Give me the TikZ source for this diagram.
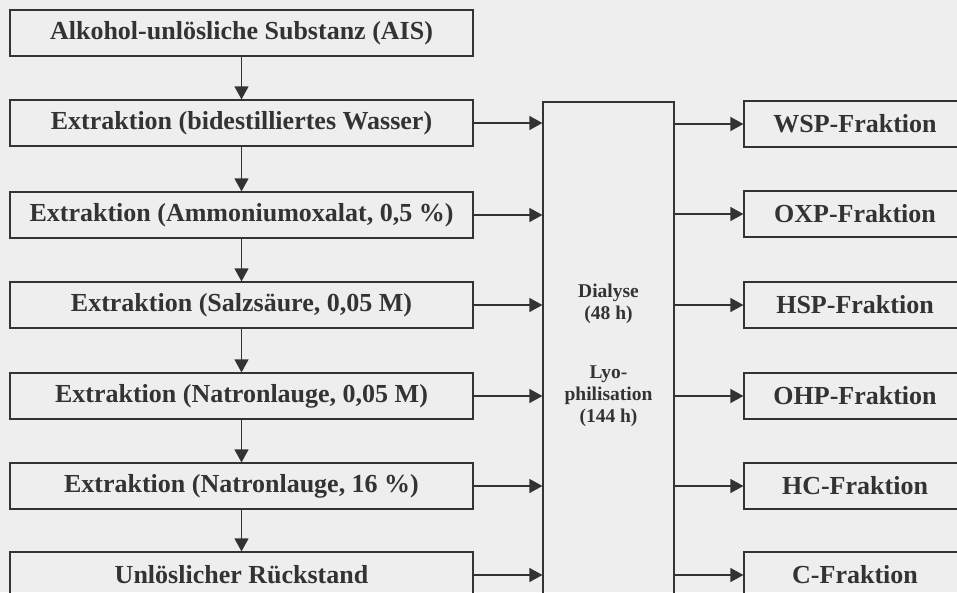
\documentclass[tikz,border=0pt]{standalone}
\usepackage{fontspec}
\setmainfont{Liberation Serif}
\usetikzlibrary{arrows.meta}
\definecolor{ink}{HTML}{333333}
\definecolor{paper}{HTML}{EEEEEE}
\tikzset{
  stufe/.style={draw=ink, line width=1.2pt, minimum width=463pt, minimum height=46pt, inner sep=0pt,
    text=ink, font=\fontsize{26}{30}\selectfont\bfseries},
  fraktion/.style={stufe, minimum width=222pt},
  mitte/.style={text=ink, align=center, inner sep=0pt, font=\fontsize{19.5}{22}\selectfont\bfseries},
  pfeil/.style={draw=ink, line width=1.2pt, -{Triangle[length=13pt,width=14pt]}}
}
\begin{document}
\begin{tikzpicture}[x=1pt,y=-1pt]
\fill[paper] (0,0) rectangle (957,592);
\useasboundingbox (0,0) rectangle (957,592);
\clip (0,0) rectangle (957,592);

\node[stufe] (ais) at (241.5,33) {Alkohol-unlösliche Substanz (AIS)};
\node[stufe] (wasser) at (241.5,123) {Extraktion (bidestilliertes Wasser)};
\node[stufe] (oxalat) at (241.5,215) {Extraktion (Ammoniumoxalat, 0,5 \%)};
\node[stufe] (salz) at (241.5,305) {Extraktion (Salzsäure, 0,05 M)};
\node[stufe] (natron) at (241.5,396) {Extraktion (Natronlauge, 0,05 M)};
\node[stufe] (natronb) at (241.5,486) {Extraktion (Natronlauge, 16 \%)};
\node[stufe] (rest) at (241.5,575) {Unlöslicher Rückstand};

\node[draw=ink, line width=1.2pt, minimum width=131pt, minimum height=500pt, inner sep=0pt] (dia) at (608.5,352) {};
\node[mitte] (dialyse) at (608.5,304) {Dialyse\\(48 h)};
\node[mitte] (lyo) at (608.5,396) {Lyo-\\philisation\\(144 h)};

\node[fraktion] (wsp) at (855,124) {WSP-Fraktion};
\node[fraktion] (oxp) at (855,214) {OXP-Fraktion};
\node[fraktion] (hsp) at (855,305) {HSP-Fraktion};
\node[fraktion] (ohp) at (855,396) {OHP-Fraktion};
\node[fraktion] (hc) at (855,486) {HC-Fraktion};
\node[fraktion] (cf) at (855,575) {C-Fraktion};

\foreach \a/\b in {ais/wasser, wasser/oxalat, oxalat/salz, salz/natron, natron/natronb, natronb/rest}
  \draw[pfeil] (\a) -- (\b);
\foreach \n in {wasser, oxalat, salz, natron, natronb, rest}
  \draw[pfeil] (\n.east) -- (\n.east -| dia.west);
\foreach \r in {wsp, oxp, hsp, ohp, hc, cf}
  \draw[pfeil] (dia.east |- \r.west) -- (\r.west);
\end{tikzpicture}
\end{document}
